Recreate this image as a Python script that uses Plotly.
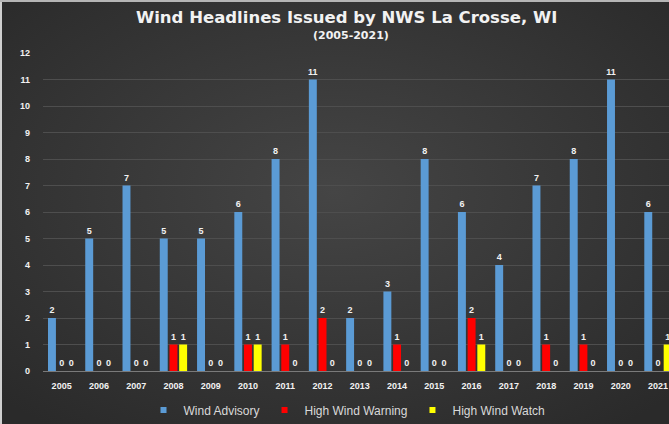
import base64
import plotly.graph_objects as go

years = ["2005", "2006", "2007", "2008", "2009", "2010", "2011", "2012", "2013",
         "2014", "2015", "2016", "2017", "2018", "2019", "2020", "2021"]
wind_advisory = [2, 5, 7, 5, 5, 6, 8, 11, 2, 3, 8, 6, 4, 7, 8, 11, 6]
high_wind_warning = [0, 0, 0, 1, 0, 1, 1, 2, 0, 1, 0, 2, 0, 1, 1, 0, 0]
high_wind_watch = [0, 0, 0, 1, 0, 1, 0, 0, 0, 0, 0, 1, 0, 0, 0, 0, 1]
series_names = ["Wind Advisory", "High Wind Warning", "High Wind Watch"]
series_colors = ["#5b9bd5", "#ff0000", "#ffff00"]

W, H = 669, 424
ML, MR, MT, MB = 43, 0, 53, 53
CAT_PX = 37.27  # pixel width of one year category

FONT = "Arial, Liberation Sans, sans-serif"
TFONT = "DejaVu Sans, Verdana, sans-serif"
lab_font = dict(family=FONT, size=9, color="#f2f2f2")

pw = W - ML - MR
ph = H - MT - MB

fig = go.Figure()
for name, vals, col in zip(series_names,
                           [wind_advisory, high_wind_warning, high_wind_watch],
                           series_colors):
    fig.add_trace(go.Bar(
        x=list(range(len(years))), y=vals, name=name, showlegend=False,
        marker=dict(color=col, line=dict(width=0)),
        text=[f"<b>{v}</b>" for v in vals], textposition="outside",
        textfont=lab_font, cliponaxis=False, constraintext="none",
    ))
# legend entries with small square keys
for name, col in zip(series_names, series_colors):
    fig.add_trace(go.Scatter(x=[None], y=[None], mode="markers", name=name,
                             marker=dict(symbol="square", size=6, color=col)))

# soft radial background like the original
svg = (f'<svg xmlns="http://www.w3.org/2000/svg" width="{W}" height="{H}">'
       '<defs><radialGradient id="g" cx="50%" cy="45%" r="70%">'
       '<stop offset="0%" stop-color="#454545"/><stop offset="100%" stop-color="#2a2a2a"/>'
       '</radialGradient></defs>'
       f'<rect width="{W}" height="{H}" fill="url(#g)"/></svg>')
bg_src = "data:image/svg+xml;base64," + base64.b64encode(svg.encode()).decode()

fig.update_layout(
    width=W, height=H,
    margin=dict(l=ML, r=MR, t=MT, b=MB, autoexpand=False),
    paper_bgcolor="#383838", plot_bgcolor="rgba(0,0,0,0)",
    barmode="group", bargap=0.22, bargroupgap=0.18,
    showlegend=True,
    legend=dict(orientation="h", x=(347 - ML) / pw, xanchor="center",
                y=-(410 - (H - MB)) / ph, yanchor="middle",
                font=dict(family=FONT, size=12, color="#d9d9d9"),
                itemwidth=30, bgcolor="rgba(0,0,0,0)", traceorder="normal"),
    xaxis=dict(
        tickmode="array", tickvals=list(range(len(years))),
        ticktext=[f"<b>{y}</b>" for y in years],
        range=[-0.5, -0.5 + pw / CAT_PX], automargin=False,
        tickfont=lab_font, showgrid=False, zeroline=False,
        showline=True, linecolor="#7a7a7a", linewidth=1, ticks="",
        ticklabelstandoff=6,
    ),
    yaxis=dict(
        range=[0, 12], dtick=1, tickmode="linear", automargin=False,
        tickfont=lab_font, gridcolor="#4e4e4e", gridwidth=1,
        zeroline=False, showline=False, ticks="",
        tickprefix="<b>", ticksuffix="</b>", ticklabelstandoff=12,
    ),
    images=[dict(source=bg_src, xref="paper", yref="paper",
                 x=-ML / pw, y=(H - MB) / ph, sizex=W / pw, sizey=H / ph,
                 xanchor="left", yanchor="top", sizing="stretch", layer="below")],
)

fig.add_annotation(text="<b>Wind Headlines Issued by NWS La Crosse, WI</b>",
                   xref="paper", yref="paper", x=(346 - ML) / pw, y=((H - MB) - 17) / ph,
                   xanchor="center", yanchor="middle", showarrow=False,
                   font=dict(family=TFONT, size=16.5, color="#f2f2f2"))
fig.add_annotation(text="<b>(2005-2021)</b>",
                   xref="paper", yref="paper", x=(351 - ML) / pw, y=((H - MB) - 35) / ph,
                   xanchor="center", yanchor="middle", showarrow=False,
                   font=dict(family=TFONT, size=11, color="#f2f2f2"))

# thin light frame on left and top edge of the picture
fig.add_shape(type="rect", xref="paper", yref="paper",
              x0=-ML / pw, x1=(-ML + 2) / pw, y0=-MB / ph, y1=(H - MB) / ph,
              fillcolor="#cfcfcf", line=dict(width=0), layer="above")
fig.add_shape(type="rect", xref="paper", yref="paper",
              x0=-ML / pw, x1=1.0, y0=(H - MB - 2) / ph, y1=(H - MB) / ph,
              fillcolor="#b5b5b5", line=dict(width=0), layer="above")

fig.write_html("out.html", config={"displayModeBar": False},
               post_script="document.body.style.margin='0';document.body.style.overflow='hidden';")
